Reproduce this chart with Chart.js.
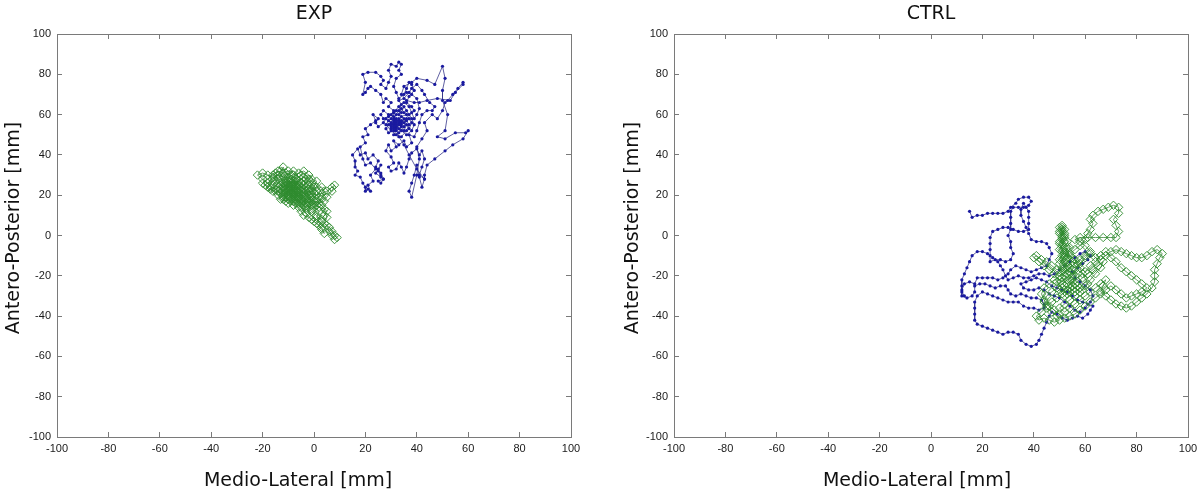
<!DOCTYPE html>
<html><head><meta charset="utf-8">
<script src="https://cdn.jsdelivr.net/npm/chart.js@4/dist/chart.umd.min.js"></script>
<style>
html,body{margin:0;padding:0;background:#fff;}
#wrap{position:relative;width:1200px;height:492px;overflow:hidden;background:#fff;}
canvas{position:absolute;top:0;}
</style></head><body>
<div id="wrap">
<canvas id="exp" width="600" height="492" style="left:0px"></canvas>
<canvas id="ctrl" width="600" height="492" style="left:600px"></canvas>
</div>
<script>
const panelTitles = ['EXP', 'CTRL'];
const xAxisTitle = 'Medio-Lateral [mm]';
const yAxisTitle = 'Antero-Posterior [mm]';
const axisTicks = [-100, -80, -60, -40, -20, 0, 20, 40, 60, 80, 100];

// [Medio-Lateral, Antero-Posterior] in mm
const expBlue = [
[26,30],[25,32],[26,35],[25,33],[24,31],[26,29],[27,28],[25,27],[26,26],[27,28],[26,31],[24,34],[25,37],[23,40],[21,38],[20,41],[18,40],[17,43],[15,40],[16,37],[16,34],[17,32],[16,30],[18,29],[19,26],[20,24],[20,22],[21,23],[22,22],[21,25],[23,27],[22,30],[24,33],[22,36],[20,35],[19,38],[18,44],[20,46],[19,49],[21,50],[20,53],[22,55],[24,57],[23,60],[25,58],[24,56],[25,54],[27,56],[28,58],[30,56],[31,55],[32,54],[30,53],[31,57],[33,56],[32,52],[31,50],[33,51],[34,54],[32,58],[30,60],[31,62],[29,64],[30,66],[28,68],[27,66],[26,70],[24,72],[22,74],[21,73],[20,71],[19,70],[20,76],[19,80],[21,81],[24,81],[26,79],[27,77],[26,75],[28,73],[29,76],[30,79],[29,82],[30,85],[32,84],[33,86],[34,85],[33,82],[34,80],[32,78],[31,74],[32,71],[33,68],[35,70],[36,73],[37,76],[38,75],[39,72],[37,69],[36,66],[38,64],[39,62],[37,60],[35,61],[34,63],[33,60],[35,58],[34,56],[32,55],[33,53],[35,52],[36,55],[37,53],[38,56],[37,58],[36,60],[34,59],[33,57],[31,56],[30,54],[31,52],[29,51],[28,53],[29,55],[31,58],[32,60],[33,62],[34,65],[33,67],[35,68],[37,71],[38,73],[40,75],[42,72],[43,70],[45,66],[47,64],[46,62],[44,62],[42,60],[41,56],[40,52],[39,49],[37,50],[38,46],[36,44],[35,47],[33,45],[31,47],[32,44],[30,42],[29,45],[28,42],[30,39],[31,36],[29,34],[30,32],[32,33],[33,36],[34,34],[35,31],[36,34],[37,38],[38,41],[40,43],[41,40],[42,42],[43,38],[42,34],[41,30],[43,28],[42,24],[41,29],[40,35],[39,30],[38,26],[37,22],[38,19],[40,30],[41,38],[40,44],[42,48],[44,52],[43,56],[46,60],[48,58],[50,62],[51,66],[52,67],[54,70],[56,73],[58,76],[58,75],[55,71],[53,67],[48,68],[44,67],[41,66],[39,66],[36,67],[34,70],[35,74],[38,76],[40,78],[44,77],[47,75],[50,84],[51,78],[50,72],[50,67],[52,60],[51,52],[48,49],[51,48],[55,51],[59,51],[60,52],[58,48],[54,45],[51,42],[47,38],[44,35],[43,30],[43,28],[40,33],[37,40],[35,45],[33,49],[32,53],[31,54],[33,55],[32,56],[30,55],[31,53],[34,55],[33,58],[35,56],[36,58],[35,54],[34,52],[36,50],[38,52],[39,55],[38,58],[36,62],[35,64],[34,61],[32,62],[30,58],[29,57],[28,55],[30,52],[32,50],[34,49],[36,52],[37,55],[36,57],[34,57],[32,57],[31,59],[29,60],[27,62],[26,60],[27,58],[29,59],[31,61],[33,64],[35,66],[37,64],[38,61],[39,58],[40,60],[41,63],[40,68],[38,70],[36,71]
];

const expGreen = [
[-8,22],[-6,20],[-9,19],[-7,17],[-5,18],[-4,21],[-6,24],[-9,25],[-11,23],[-10,20],[-12,18],[-10,16],[-8,15],[-6,14],[-4,15],[-3,18],[-1,20],[-2,23],[-4,25],[-3,28],[-5,30],[-7,28],[-9,30],[-11,31],[-12,34],[-13,32],[-15,31],[-14,28],[-16,27],[-18,26],[-17,24],[-15,23],[-13,25],[-11,27],[-9,27],[-7,25],[-8,23],[-10,22],[-12,21],[-14,20],[-13,18],[-11,17],[-9,18],[-7,20],[-5,22],[-3,24],[-2,26],[0,25],[1,22],[-1,19],[-2,16],[0,14],[2,12],[1,9],[3,8],[4,10],[5,12],[3,15],[1,17],[-1,15],[-3,13],[-5,12],[-4,10],[-2,9],[0,7],[2,5],[3,3],[4,1],[3,4],[1,6],[-1,8],[-3,11],[-5,14],[-7,16],[-9,17],[-11,19],[-13,21],[-15,22],[-17,23],[-19,25],[-20,28],[-22,30],[-20,31],[-18,30],[-16,29],[-14,30],[-12,29],[-10,29],[-8,30],[-6,31],[-4,32],[-2,30],[-1,28],[1,27],[0,24],[-2,22],[-4,20],[-6,18],[-8,17],[-10,18],[-12,19],[-11,21],[-9,22],[-7,23],[-5,24],[-6,26],[-8,27],[-10,25],[-12,24],[-14,24],[-16,25],[-15,27],[-13,28],[-11,29],[-9,28],[-7,27],[-5,26],[-3,22],[-1,21],[1,20],[3,21],[5,22],[7,24],[8,25],[7,22],[5,19],[4,17],[2,16],[0,17],[-2,18],[-4,17],[-6,16],[-8,19],[-10,21],[-8,24],[-6,22],[-4,19],[-2,17],[0,15],[2,14],[4,13],[5,9],[4,6],[6,4],[7,2],[8,0],[9,-1],[8,-2],[7,0],[6,2],[5,5],[3,7],[1,10],[-1,12],[-3,14],[-5,16],[-7,18],[-9,21],[-11,22],[-13,23],[-11,25],[-9,24],[-7,21],[-5,20],[-3,19],[-4,23],[-6,25],[-8,26],[-10,27],[-12,26],[-10,24],[-8,21],[-6,19],[-7,22],[-9,23],[-7,19],[-5,17],[-3,16],[-1,17],[1,18],[2,19],[0,21],[-2,20],[-4,22],[-6,21],[-8,20],[-10,19],[-12,20],[-14,22],[-16,22],[-18,24],[-20,26],[-18,28],[-16,30],[-14,32],[-12,31],[-10,32],[-8,32],[-6,29],[-4,27],[-2,25],[-1,23],[1,24],[3,24],[4,22],[3,19],[1,15],[-1,13],[-3,15],[-5,18],[-7,24],[-9,26],[-11,26],[-13,26],[-12,23],[-10,23],[-8,25],[-6,27],[-4,29],[-2,28]
];

const ctrlBlue = [
[15,12],[16,9],[18,10],[20,10],[22,11],[24,11],[26,11],[28,11],[30,12],[31,14],[33,16],[34,18],[36,19],[38,19],[39,17],[38,15],[36,14],[34,14],[32,14],[31,12],[31,9],[31,6],[31,3],[30,0],[31,-3],[31,-6],[32,-9],[31,-12],[29,-13],[27,-12],[25,-12],[23,-13],[23,-10],[23,-7],[23,-4],[23,-1],[24,2],[26,3],[28,4],[30,4],[32,3],[34,2],[36,2],[38,3],[38,6],[38,9],[38,12],[37,14],[36,16],[35,13],[35,10],[36,7],[37,4],[38,1],[39,-2],[41,-3],[43,-3],[45,-4],[46,-6],[47,-9],[46,-12],[45,-15],[43,-16],[41,-17],[39,-18],[37,-17],[35,-16],[33,-15],[31,-17],[30,-19],[28,-21],[26,-22],[24,-21],[22,-21],[20,-21],[18,-21],[17,-24],[15,-23],[13,-24],[12,-27],[12,-30],[14,-31],[16,-30],[17,-28],[17,-25],[19,-24],[21,-24],[23,-25],[25,-26],[27,-25],[29,-25],[30,-27],[31,-29],[33,-30],[35,-29],[37,-30],[39,-31],[41,-31],[43,-32],[44,-34],[44,-36],[42,-37],[40,-36],[38,-36],[36,-35],[34,-33],[32,-33],[30,-33],[28,-32],[26,-31],[24,-30],[22,-29],[20,-28],[18,-30],[17,-33],[17,-36],[17,-39],[17,-42],[18,-44],[20,-45],[22,-46],[24,-47],[26,-48],[28,-49],[30,-48],[32,-48],[34,-49],[35,-52],[37,-54],[39,-55],[41,-54],[42,-52],[43,-49],[44,-46],[45,-43],[46,-40],[47,-38],[49,-39],[51,-41],[53,-42],[55,-41],[57,-40],[59,-41],[61,-39],[62,-37],[63,-35],[61,-34],[59,-33],[57,-32],[55,-30],[53,-28],[51,-27],[49,-26],[47,-25],[45,-23],[43,-22],[41,-21],[39,-22],[37,-23],[35,-24],[36,-26],[38,-27],[40,-27],[42,-26],[44,-27],[46,-29],[48,-30],[50,-31],[52,-33],[54,-35],[56,-37],[58,-38],[60,-36],[62,-33],[63,-30],[62,-27],[60,-25],[58,-23],[56,-21],[55,-18],[57,-16],[59,-14],[61,-12],[62,-10],[60,-8],[58,-9],[56,-11],[54,-13],[52,-15],[50,-17],[48,-19],[46,-20],[44,-19],[42,-19],[40,-20],[38,-21],[36,-21],[34,-20],[32,-21],[30,-22],[29,-20],[28,-17],[27,-15],[26,-13],[24,-11],[22,-9],[20,-8],[18,-8],[16,-10],[15,-13],[14,-16],[13,-19],[12,-22],[12,-25],[12,-28],[13,-30]
];

const ctrlGreen = [
[51,3],[50,1],[51,-1],[52,-3],[51,-5],[50,-7],[52,-8],[51,-10],[50,-12],[52,-13],[53,-15],[51,-16],[49,-17],[47,-15],[45,-13],[43,-12],[41,-10],[40,-11],[42,-13],[44,-15],[46,-17],[48,-19],[50,-20],[52,-18],[54,-16],[56,-14],[58,-12],[60,-10],[62,-9],[60,-11],[58,-14],[56,-17],[55,-20],[53,-22],[51,-24],[49,-26],[47,-28],[45,-30],[44,-33],[45,-36],[47,-38],[49,-40],[50,-42],[48,-43],[46,-42],[44,-41],[42,-42],[41,-40],[43,-38],[45,-35],[47,-33],[49,-31],[51,-29],[53,-27],[55,-25],[57,-23],[59,-21],[61,-19],[63,-17],[65,-15],[67,-13],[66,-16],[64,-19],[62,-22],[60,-25],[58,-28],[56,-30],[54,-32],[52,-34],[50,-36],[52,-38],[54,-36],[56,-34],[58,-32],[60,-30],[62,-28],[64,-26],[66,-24],[68,-22],[67,-25],[66,-28],[68,-30],[70,-32],[72,-34],[74,-35],[76,-36],[78,-35],[80,-33],[82,-31],[84,-29],[86,-26],[87,-23],[87,-20],[87,-17],[88,-14],[89,-11],[90,-9],[88,-7],[86,-8],[84,-10],[82,-11],[80,-11],[78,-10],[76,-9],[74,-8],[72,-7],[70,-8],[68,-10],[66,-12],[64,-11],[62,-8],[60,-5],[58,-3],[56,-2],[58,-1],[61,-1],[64,-1],[67,-1],[70,-1],[72,-1],[73,2],[72,5],[71,8],[73,11],[73,14],[71,15],[69,14],[67,13],[65,12],[63,10],[62,8],[63,6],[62,3],[61,1],[60,-2],[58,-5],[56,-7],[54,-9],[53,-11],[54,-6],[53,-3],[52,0],[51,2],[50,4],[51,5],[52,3],[51,0],[50,-3],[52,-6],[54,-10],[56,-12],[58,-16],[60,-18],[62,-15],[64,-13],[66,-10],[68,-8],[70,-11],[72,-13],[74,-16],[76,-18],[78,-20],[80,-22],[82,-24],[84,-26],[82,-28],[80,-29],[78,-30],[76,-31],[74,-29],[72,-27],[70,-25],[68,-27],[66,-29],[64,-31],[62,-33],[60,-35],[58,-37],[56,-39],[54,-40],[52,-41],[50,-39],[48,-37],[46,-35],[44,-32],[43,-29],[44,-26],[46,-24],[48,-22],[50,-22],[52,-20],[54,-22],[56,-24],[58,-26],[56,-28],[54,-26],[52,-25],[50,-27],[52,-30],[54,-28],[56,-20],[54,-18],[52,-16],[53,-13],[55,-11],[52,-9],[51,-7],[50,-4],[51,-2],[52,1],[51,4],[50,2],[52,-1],[51,-4],[53,-6],[52,-11],[50,-14],[51,-18],[53,-19],[55,-17],[57,-19],[55,-22],[53,-24],[51,-21],[49,-23],[51,-26],[53,-29],[55,-27],[57,-25],[59,-27],[61,-24],[59,-19],[57,-14],[55,-13],[53,-16],[51,-12],[52,-10],[51,-8]
];

function toXY(arr) { return arr.map(p => ({ x: p[0], y: p[1] })); }

const axisTitlePlugin = {
  id: 'axisTitles',
  afterDraw(chart, args, opts) {
    const ctx = chart.ctx;
    ctx.save();
    ctx.fillStyle = '#111';
    ctx.font = '19px "DejaVu Sans"';
    ctx.textAlign = 'center';
    ctx.textBaseline = 'middle';
    ctx.fillText(opts.xText, opts.xTitleX, opts.xTitleY);
    ctx.translate(opts.yTitleX, opts.yTitleY);
    ctx.rotate(-Math.PI / 2);
    ctx.fillText(opts.yText, 0, 0);
    ctx.restore();
  }
};

const AXIS_COLOR = '#7a7a7a';
const TICK_FONT = { family: 'Liberation Sans', size: 11 };

function scaleCfg(axis, position, size, showLabels) {
  return {
    type: 'linear', axis: axis, position: position, min: -100, max: 100,
    afterBuildTicks: s => { s.ticks = axisTicks.map(v => ({ value: v })); },
    afterFit: s => {
      if (axis === 'x') s.height = size; else s.width = size;
      s.paddingLeft = 0; s.paddingRight = 0; s.paddingTop = 0; s.paddingBottom = 0;
    },
    grid: { drawOnChartArea: false, drawTicks: true, tickLength: -5, color: AXIS_COLOR, lineWidth: 1 },
    border: { display: true, color: AXIS_COLOR, width: 1 },
    ticks: {
      display: showLabels, padding: axis === 'x' ? 10 : 11, font: TICK_FONT, color: '#1a1a1a',
      maxRotation: 0, minRotation: 0, autoSkip: false, callback: v => String(v)
    }
  };
}

function makeChart(id, title, blue, green, yAxisWidth, rightPad, yTitleX, xTitleX) {
  return new Chart(document.getElementById(id), {
    type: 'scatter',
    data: {
      datasets: [
        {
          label: 'green', data: toXY(green), showLine: true,
          borderColor: '#3c8a3c', borderWidth: 0.8,
          pointStyle: 'rectRot', pointRadius: 4.2, pointHoverRadius: 4.2,
          pointBorderColor: '#2e8b2e', pointBackgroundColor: 'rgba(255,255,255,0)', pointBorderWidth: 0.9
        },
        {
          label: 'blue', data: toXY(blue), showLine: true,
          borderColor: '#38388a', borderWidth: 0.8,
          pointStyle: 'circle', pointRadius: 1.6, pointHoverRadius: 1.6,
          pointBorderColor: '#1a1aa0', pointBackgroundColor: '#1a1aa0', pointBorderWidth: 0
        }
      ]
    },
    options: {
      responsive: false, animation: false, devicePixelRatio: 1,
      layout: { autoPadding: false, padding: { left: 0, right: rightPad, top: 0, bottom: 0 } },
      scales: {
        x: scaleCfg('x', 'bottom', 55, true),
        y: scaleCfg('y', 'left', yAxisWidth, true),
        xTop: scaleCfg('x', 'top', 0, false),
        yRight: scaleCfg('y', 'right', 0, false)
      },
      plugins: {
        legend: { display: false },
        tooltip: { enabled: false },
        title: {
          display: true, text: title, fullSize: false, color: '#111',
          font: { family: 'DejaVu Sans', size: 19, weight: 'normal', lineHeight: 1.2 },
          padding: { top: 3, bottom: 8.2 }
        },
        axisTitles: {
          xText: xAxisTitle, yText: yAxisTitle,
          xTitleX: xTitleX, xTitleY: 481, yTitleX: yTitleX, yTitleY: 228
        }
      }
    },
    plugins: [axisTitlePlugin]
  });
}

makeChart('exp', panelTitles[0], expBlue, expGreen, 57, 29, 14, 298);
makeChart('ctrl', panelTitles[1], ctrlBlue, ctrlGreen, 74, 12, 33, 917 - 600);
</script>
</body></html>
